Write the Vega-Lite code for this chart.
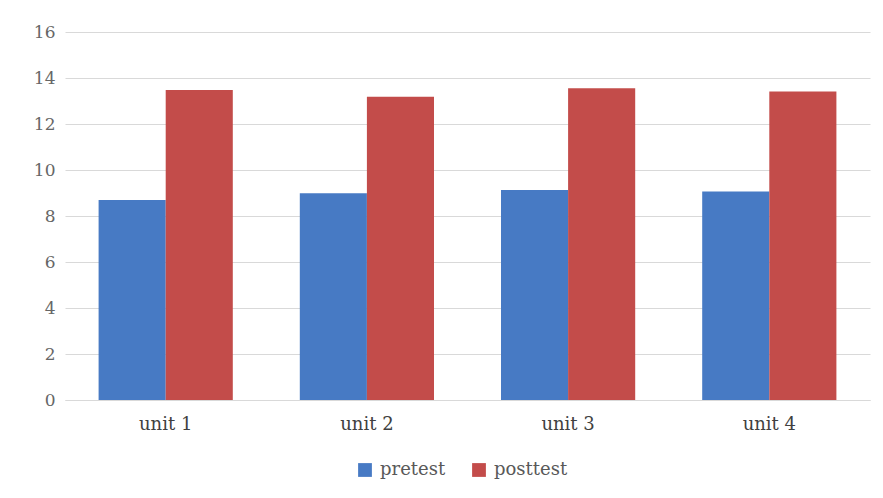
{
  "$schema": "https://vega.github.io/schema/vega-lite/v6.json",
  "width": 805,
  "height": 368,
  "autosize": {"type": "none"},
  "padding": {"left": 65, "top": 32, "right": 13, "bottom": 98},
  "background": "white",
  "config": {
    "view": {"stroke": null},
    "font": "DejaVu Serif"
  },
  "data": {
    "values": [
      {"unit": "unit 1", "test": "pretest", "score": 8.7},
      {"unit": "unit 1", "test": "posttest", "score": 13.48},
      {"unit": "unit 2", "test": "pretest", "score": 8.99},
      {"unit": "unit 2", "test": "posttest", "score": 13.19},
      {"unit": "unit 3", "test": "pretest", "score": 9.13},
      {"unit": "unit 3", "test": "posttest", "score": 13.55},
      {"unit": "unit 4", "test": "pretest", "score": 9.06},
      {"unit": "unit 4", "test": "posttest", "score": 13.41}
    ]
  },
  "mark": {"type": "bar"},
  "encoding": {
    "x": {
      "field": "unit",
      "type": "nominal",
      "sort": null,
      "scale": {"paddingInner": 0.333, "paddingOuter": 0.167},
      "axis": {
        "title": null,
        "labelAngle": 0,
        "labelFontSize": 18,
        "labelColor": "#404040",
        "labelPadding": 15,
        "ticks": false,
        "domain": true,
        "domainColor": "#d9d9d9"
      }
    },
    "xOffset": {"field": "test", "sort": ["pretest", "posttest"], "scale": {"paddingInner": 0, "paddingOuter": 0}},
    "y": {
      "field": "score",
      "type": "quantitative",
      "scale": {"domain": [0, 16]},
      "axis": {
        "title": null,
        "values": [0, 2, 4, 6, 8, 10, 12, 14, 16],
        "labelFontSize": 17,
        "labelColor": "#666666",
        "labelPadding": 10,
        "ticks": false,
        "domain": false,
        "gridColor": "#d9d9d9",
        "gridWidth": 1
      }
    },
    "color": {
      "field": "test",
      "type": "nominal",
      "sort": ["pretest", "posttest"],
      "scale": {"domain": ["pretest", "posttest"], "range": ["#477ac4", "#c34c4a"]},
      "legend": {
        "title": null,
        "orient": "none",
        "direction": "horizontal",
        "legendX": 291,
        "legendY": 429,
        "symbolType": "square",
        "symbolSize": 190,
        "labelFontSize": 18,
        "labelColor": "#595959",
        "columnPadding": 24,
        "labelOffset": 6
      }
    }
  }
}
